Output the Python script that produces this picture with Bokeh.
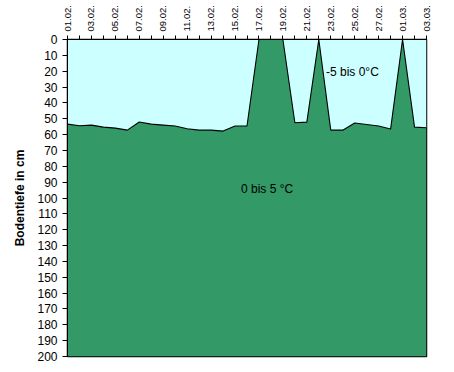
from math import pi
from bokeh.plotting import figure
from bokeh.models import Range1d, FixedTicker, Label
from bokeh.embed import file_html
from bokeh.resources import INLINE

# Dates (daily, 01.02. - 03.03.)
dates = ["01.02.", "02.02.", "03.02.", "04.02.", "05.02.", "06.02.", "07.02.", "08.02.",
         "09.02.", "10.02.", "11.02.", "12.02.", "13.02.", "14.02.", "15.02.", "16.02.",
         "17.02.", "18.02.", "19.02.", "20.02.", "21.02.", "22.02.", "23.02.", "24.02.",
         "25.02.", "26.02.", "27.02.", "28.02.", "01.03.", "02.03.", "03.03."]
# Depth of the lower boundary of the "-5 bis 0°C" layer (cm)
frost_depth = [53.4, 54.4, 54.0, 55.3, 55.9, 57.2, 52.1, 53.4, 54.0, 54.6, 56.3, 57.2,
               57.2, 57.8, 54.6, 54.6, 0, 0, 0, 52.5, 52.1, 0, 57.2, 57.2, 52.7, 53.6,
               54.6, 56.5, 0, 55.3, 55.7]
max_depth = 200
y_ticks = list(range(0, 201, 10))
label_cold = "-5 bis 0°C"
label_warm = "0 bis 5 °C"
y_title = "Bodentiefe in cm"

idx = list(range(len(dates)))
bottom = [max_depth] * len(dates)
top = [0] * len(dates)

FONT = "Liberation Sans"

p = figure(width=438, height=366, output_backend="svg", toolbar_location=None,
           x_axis_location="above",
           x_range=Range1d(0, len(dates) - 1), y_range=Range1d(max_depth, 0),
           min_border_left=67, min_border_right=12, min_border_top=39, min_border_bottom=10)

p.varea(x=idx, y1=top, y2=frost_depth, fill_color="#CCFFFF")
p.varea(x=idx, y1=frost_depth, y2=bottom, fill_color="#339966")
p.line(x=idx, y=frost_depth, line_color="black", line_width=1.1)

p.background_fill_color = "#CCFFFF"
p.border_fill_color = "white"
p.outline_line_color = "black"
p.outline_line_width = 1.5
p.grid.visible = False

xa = p.xaxis[0]
xa.ticker = FixedTicker(ticks=idx)
xa.major_label_overrides = {i: (d if i % 2 == 0 else "") for i, d in enumerate(dates)}
xa.major_label_orientation = pi / 2
xa.major_label_text_font = FONT
xa.major_label_text_font_size = "9.5px"
xa.major_label_text_color = "black"
xa.major_label_standoff = 4
xa.major_tick_in = 0
xa.major_tick_out = 4
xa.minor_tick_line_color = None
xa.axis_line_color = "black"
xa.major_tick_line_color = "black"

ya = p.yaxis[0]
ya.ticker = FixedTicker(ticks=y_ticks)
ya.major_label_text_font = FONT
ya.major_label_text_font_size = "12px"
ya.major_label_text_color = "black"
ya.major_label_standoff = 5
ya.major_tick_in = 0
ya.major_tick_out = 5
ya.minor_tick_line_color = None
ya.axis_line_color = "black"
ya.major_tick_line_color = "black"
ya.axis_label = y_title
ya.axis_label_text_font = FONT
ya.axis_label_text_font_size = "12px"
ya.axis_label_text_font_style = "bold"
ya.axis_label_text_color = "black"
ya.axis_label_standoff = 7

p.add_layout(Label(x=21.6, y=20.7, text=label_cold, text_font=FONT, text_font_size="12px",
                   text_color="black", text_baseline="middle", text_align="left"))
p.add_layout(Label(x=14.5, y=94.5, text=label_warm, text_font=FONT, text_font_size="12px",
                   text_color="black", text_baseline="middle", text_align="left"))

open("out.html", "w").write(file_html(p, INLINE))
